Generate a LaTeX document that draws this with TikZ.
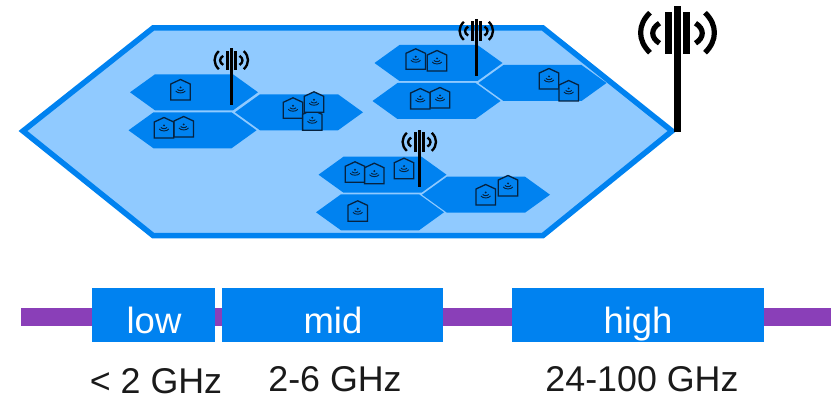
\documentclass[tikz,border=0pt]{standalone}
\usepackage{fontspec}
\setmainfont{Liberation Sans}
\definecolor{cellblue}{HTML}{0082F0}
\definecolor{skyblue}{HTML}{90CAFF}
\definecolor{bandpurple}{HTML}{8A3FB8}
\definecolor{ink}{HTML}{1A1A1A}
\definecolor{houseline}{HTML}{06223F}
\newcommand{\cellhex}[2]{%
  \fill[cellblue] (#1-64,#2) -- (#1-39,#2-18) -- (#1+39,#2-18) -- (#1+64,#2) -- (#1+39,#2+18) -- (#1-39,#2+18) -- cycle;}
\newcommand{\homeicon}[2]{%
  \begin{scope}[shift={(#1,#2)}]
    \draw[houseline,line width=1.3pt,fill=cellblue,line join=miter] (-9.7,10) -- (9.7,10) -- (9.7,-6) -- (0,-10.5) -- (-9.7,-6) -- cycle;
    \fill[houseline] (0,-2.6) circle (1.1);
    \draw[houseline,line width=0.9pt] (-3,-0.6) .. controls (-2,1) and (2,1) .. (3,-0.6);
    \draw[houseline,line width=0.9pt] (-4.8,1) .. controls (-3,3.6) and (3,3.6) .. (4.8,1);
  \end{scope}}
\newcommand{\antennaicon}[3]{%
  \begin{scope}[shift={(#1,#2)},scale=#3,black]
    \fill (-3.5,-125.7) rectangle (3.5,0);
    \fill (-12.5,-119.7) rectangle (-5.2,-77.7);
    \fill (5.2,-119.7) rectangle (12.5,-77.7);
    \draw[line width=#3*5.2pt] (-27.5,-119) .. controls (-40,-107) and (-40,-91) .. (-27.5,-79);
    \draw[line width=#3*5.2pt] (27.5,-119) .. controls (40,-107) and (40,-91) .. (27.5,-79);
    \draw[line width=#3*5.2pt] (-18,-108.5) .. controls (-27,-103) and (-27,-94) .. (-18,-88.5);
    \draw[line width=#3*5.2pt] (18,-108.5) .. controls (27,-103) and (27,-94) .. (18,-88.5);
  \end{scope}}
\tikzset{
  bandbox/.style={fill=cellblue,text=white,inner sep=0pt,minimum height=54pt},
  bandlabel/.style={text=white,inner sep=0pt,anchor=base,font=\fontsize{36.5}{36.5}\selectfont},
  freqlabel/.style={text=ink,inner sep=0pt,anchor=base,font=\fontsize{35.8}{36}\selectfont},
}
\begin{document}
\begin{tikzpicture}[x=1pt,y=-1pt]
\useasboundingbox (0,0) rectangle (831,396);
% macro cell
\draw[cellblue,fill=skyblue,line width=5.5pt,line join=miter] (23,131) -- (153,28) -- (543,28) -- (672,131) -- (543,235.5) -- (153,235.5) -- cycle;
% cells
\cellhex{194}{92.3}
\cellhex{192.5}{130.3}
\cellhex{299}{112.3}
\cellhex{438.5}{63}
\cellhex{436.5}{101}
\cellhex{542.5}{83}
\cellhex{382.5}{174.7}
\cellhex{380}{212.3}
\cellhex{486}{194.7}
% houses
\homeicon{180.5}{90}
\homeicon{183.7}{127}
\homeicon{164}{128}
\homeicon{293}{108.3}
\homeicon{312.3}{120.3}
\homeicon{314}{102.3}
\homeicon{415.7}{59.3}
\homeicon{437}{61}
\homeicon{440}{98}
\homeicon{420.3}{99}
\homeicon{549}{79}
\homeicon{568.7}{91}
\homeicon{355}{172.3}
\homeicon{374.3}{173.7}
\homeicon{404}{168.7}
\homeicon{485.7}{195}
\homeicon{508}{186}
\homeicon{357.7}{211.3}
% antennas
\antennaicon{231.3}{105}{0.453}
\antennaicon{476.3}{75.7}{0.453}
\antennaicon{419.3}{186.7}{0.453}
\antennaicon{677.5}{131.7}{1}
% spectrum
\coordinate (barstart) at (21,317);
\coordinate (barend) at (831,317);
\draw[bandpurple,line width=18pt] (barstart) -- (barend);
\node[bandbox,minimum width=123pt] (low) at (153.5,315) {};
\node[bandbox,minimum width=221pt] (mid) at (332.5,315) {};
\node[bandbox,minimum width=252pt] (high) at (638,315) {};
\node[bandlabel] (lowt) at (154,333) {low};
\node[bandlabel] (midt) at (333,333) {mid};
\node[bandlabel] (hight) at (638,333) {high};
\node[freqlabel] (lowf) at (156,393) {< 2 GHz};
\node[freqlabel] (midf) at (335,391) {2-6 GHz};
\node[freqlabel] (highf) at (642,391) {24-100 GHz};
\end{tikzpicture}
\end{document}
